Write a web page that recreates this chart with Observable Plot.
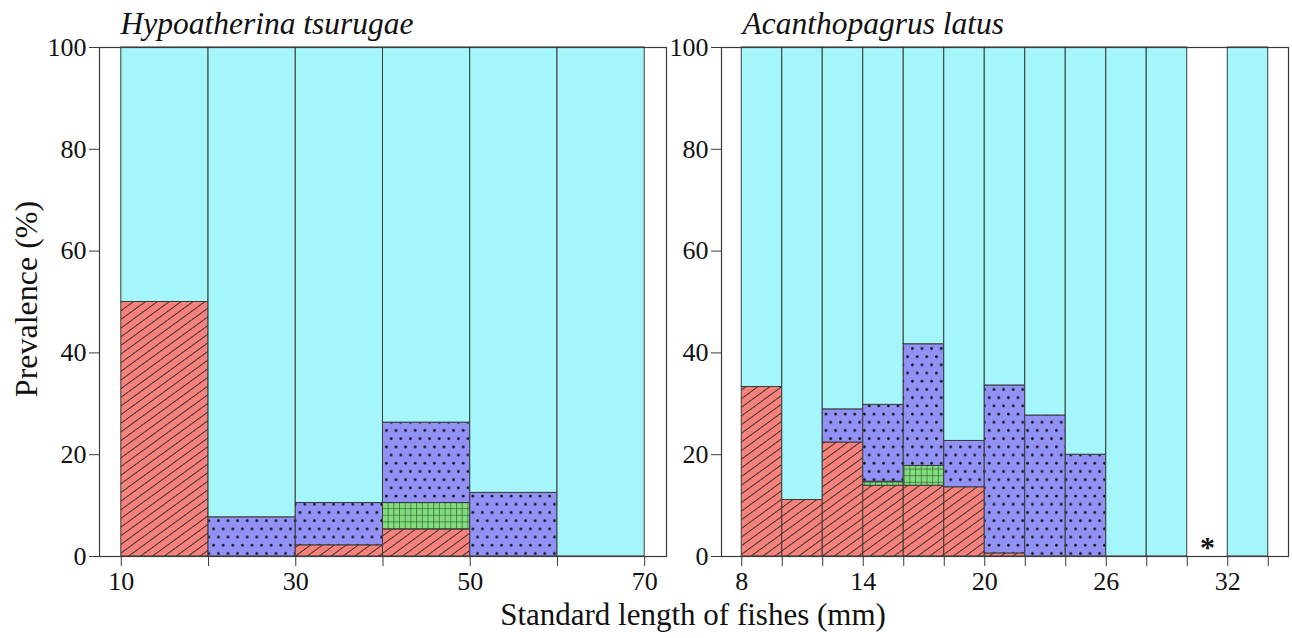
<!DOCTYPE html>
<html>
<head>
<meta charset="utf-8">
<script src="https://cdn.jsdelivr.net/npm/d3@7"></script>
<script src="https://cdn.jsdelivr.net/npm/@observablehq/plot@0.6"></script>
<style>
  body { margin: 0; background: #fff; }
  #chart { position: relative; width: 1292px; height: 638px; font-family: "Liberation Serif", "Times New Roman", serif; color: #111; }
  #chart svg.plot-panel { position: absolute; top: 0; overflow: visible; }
  .axis-title { position: absolute; white-space: nowrap; line-height: 1; }
  #ytitle { left: 26px; top: 299px; font-size: 32px; transform: translate(-50%, -50%) rotate(-90deg); }
  #xtitle { left: 693px; top: 599px; font-size: 31px; transform: translateX(-50%); }
</style>
</head>
<body>
<svg width="0" height="0" style="position:absolute">
  <defs>
    <pattern id="fill-hatch" patternUnits="userSpaceOnUse" width="8" height="7" patternTransform="rotate(-36)">
      <rect width="8" height="7" fill="#f7827c"/>
      <line x1="0" y1="0.5" x2="8" y2="0.5" stroke="#2a2a2a" stroke-width="0.9"/>
    </pattern>
    <pattern id="fill-dots" patternUnits="userSpaceOnUse" width="9.6" height="16.4">
      <rect width="9.6" height="16.4" fill="#9191f6"/>
      <circle cx="2.4" cy="4.1" r="1.35" fill="#111"/>
      <circle cx="7.2" cy="12.3" r="1.35" fill="#111"/>
    </pattern>
    <pattern id="fill-grid" patternUnits="userSpaceOnUse" width="5.7" height="6.6">
      <rect width="5.7" height="6.6" fill="#80df7c"/>
      <path d="M0 0.5H5.7M0.5 0V6.6" stroke="#2f4a2f" stroke-width="0.8" stroke-opacity="0.75"/>
    </pattern>
  </defs>
</svg>
<div id="chart">
  <div class="axis-title" id="ytitle">Prevalence (%)</div>
  <div class="axis-title" id="xtitle">Standard length of fishes (mm)</div>
</div>
<script>
// Hypoatherina tsurugae: 10 mm size classes
const hyTitle = "Hypoatherina tsurugae";
const hyStarts = [10, 20, 30, 40, 50, 60];
const hyHatched = [50, 0, 2.2, 5.3, 0, 0];
const hyGrid    = [0, 0, 0, 5.2, 0, 0];
const hyDotted  = [0, 7.7, 8.3, 15.8, 12.5, 0];
const hyClear   = [50, 92.3, 89.5, 73.7, 87.5, 100];
const hyTicks = [10, 20, 30, 40, 50, 60, 70];
const hyTickLabels = [10, 30, 50, 70];

// Acanthopagrus latus: 2 mm size classes
const alTitle = "Acanthopagrus latus";
const alStarts  = [8, 10, 12, 14, 16, 18, 20, 22, 24, 26, 28, 30, 32];
const alHatched = [33.3, 11.1, 22.4, 13.9, 13.9, 13.6, 0.6, 0, 0, 0, 0, 0, 0];
const alGrid    = [0, 0, 0, 0.8, 3.9, 0, 0, 0, 0, 0, 0, 0, 0];
const alDotted  = [0, 0, 6.5, 15.1, 23.9, 9.1, 33.0, 27.7, 20, 0, 0, 0, 0];
const alClear   = [66.7, 88.9, 71.1, 70.2, 58.3, 77.3, 66.4, 72.3, 80, 100, 100, 0, 100];
const alNoData  = [30];
const alTicks = [8, 10, 12, 14, 16, 18, 20, 22, 24, 26, 28, 30, 32, 34];
const alTickLabels = [8, 14, 20, 26, 32];

const yTicks = [0, 20, 40, 60, 80, 100];

const fills = {
  hatched: "url(#fill-hatch)",
  grid: "url(#fill-grid)",
  dotted: "url(#fill-dots)",
  clear: "#a5f6fa"
};

// Stack the series of each size class from the bottom up into rectangles
function stackRows(starts, width, series) {
  const rows = [];
  starts.forEach((start, i) => {
    let base = 0;
    for (const [key, values] of series) {
      const v = values[i];
      if (v > 0) rows.push({x1: start, x2: start + width, y1: base, y2: base + v, key});
      base += v || 0;
    }
  });
  return rows;
}

function panel({title, rows, xDomain, ticks, tickLabels, marginLeft, left, noData, binWidth}) {
  const svg = Plot.plot({
    width: marginLeft + 567 + 4,
    height: 600,
    marginLeft,
    marginRight: 4,
    marginTop: 47,
    marginBottom: 44,
    x: {domain: xDomain},
    y: {domain: [0, 100]},
    color: {type: "identity"},
    style: {fontFamily: '"Liberation Serif", "Times New Roman", serif', fontSize: "26px", color: "#111", background: "transparent"},
    marks: [
      Plot.rect(rows, {x1: "x1", x2: "x2", y1: "y1", y2: "y2", fill: d => fills[d.key], stroke: "#3a3a3a", strokeWidth: 1}),
      Plot.frame({stroke: "#3a3a3a", strokeWidth: 1.2}),
      Plot.axisY({ticks: yTicks, tickSize: 10, tickPadding: 3, label: null, stroke: "#3a3a3a"}),
      Plot.axisX({ticks, tickFormat: d => tickLabels.includes(d) ? String(d) : "", tickSize: 10, tickPadding: 5, label: null, stroke: "#3a3a3a"}),
      Plot.text(noData, {x: d => d + binWidth / 2, y: 0, text: () => "*", dy: -9, fontSize: 30, fontWeight: "bold"}),
      Plot.text([title], {frameAnchor: "top-left", text: d => d, dx: 21, dy: -14, fontSize: 31.5, fontStyle: "italic", textAnchor: "start", lineAnchor: "bottom"})
    ]
  });
  svg.classList.add("plot-panel");
  svg.style.left = left + "px";
  return svg;
}

const chart = document.getElementById("chart");

chart.appendChild(panel({
  title: hyTitle,
  rows: stackRows(hyStarts, 10, [["hatched", hyHatched], ["grid", hyGrid], ["dotted", hyDotted], ["clear", hyClear]]),
  xDomain: [7.5, 72.5],
  ticks: hyTicks,
  tickLabels: hyTickLabels,
  marginLeft: 99,
  left: 0,
  noData: [],
  binWidth: 10
}));

chart.appendChild(panel({
  title: alTitle,
  rows: stackRows(alStarts, 2, [["hatched", alHatched], ["grid", alGrid], ["dotted", alDotted], ["clear", alClear]]),
  xDomain: [7, 35],
  ticks: alTicks,
  tickLabels: alTickLabels,
  marginLeft: 51,
  left: 670,
  noData: alNoData,
  binWidth: 2
}));
</script>
</body>
</html>
